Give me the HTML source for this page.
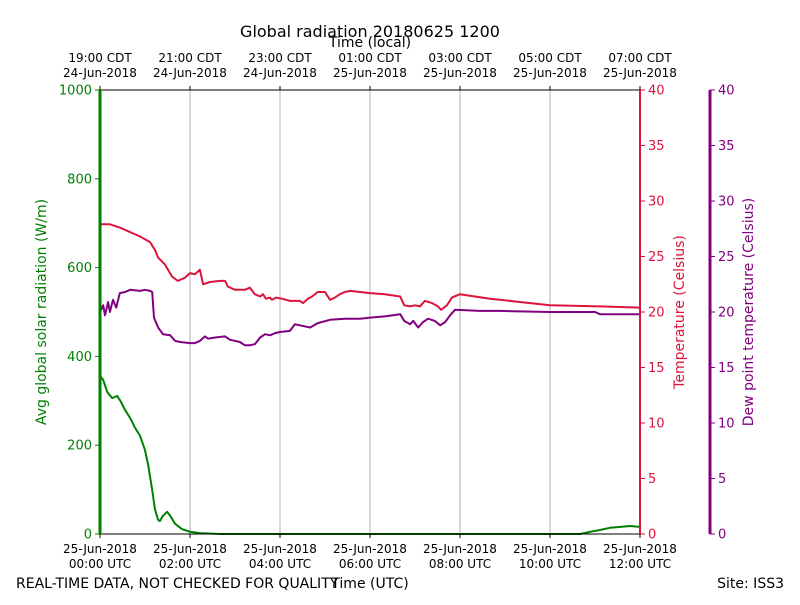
<!DOCTYPE html>
<html><head><meta charset="utf-8"><style>
body{margin:0;background:#fff}
svg{font-family:"DejaVu Sans","Liberation Sans",sans-serif}
</style></head><body>
<svg id="c" width="800" height="600" viewBox="0 0 800 600"></svg>
<script>
// data (hours since 00:00 UTC)
const tempTimes=[0,0.22,0.44,0.89,1.11,1.22,1.29,1.44,1.6,1.73,1.89,2,2.11,2.22,2.29,2.44,2.67,2.78,2.84,3,3.22,3.33,3.44,3.56,3.62,3.69,3.78,3.82,3.91,4.04,4.22,4.44,4.51,4.62,4.71,4.84,5,5.11,5.22,5.33,5.44,5.56,5.78,6,6.33,6.67,6.76,6.89,7,7.11,7.22,7.38,7.51,7.58,7.71,7.82,8,8.33,8.67,9.33,10,11.11,12];
const tempVals=[27.9,27.9,27.6,26.8,26.3,25.6,24.9,24.3,23.2,22.8,23.1,23.5,23.4,23.8,22.5,22.7,22.8,22.8,22.3,22.0,22.0,22.2,21.6,21.4,21.6,21.2,21.3,21.1,21.3,21.2,21.0,21.0,20.8,21.2,21.4,21.8,21.8,21.1,21.3,21.6,21.8,21.9,21.8,21.7,21.6,21.4,20.6,20.5,20.6,20.5,21.0,20.8,20.5,20.2,20.6,21.3,21.6,21.4,21.2,20.9,20.6,20.5,20.4];
const dewTimes=[0,0.07,0.11,0.18,0.22,0.29,0.36,0.44,0.56,0.67,0.89,1,1.11,1.16,1.2,1.29,1.4,1.56,1.67,1.78,2,2.11,2.22,2.33,2.4,2.56,2.78,2.89,3.11,3.22,3.33,3.44,3.56,3.67,3.78,3.89,4,4.22,4.33,4.44,4.67,4.84,5.11,5.44,5.78,6,6.33,6.67,6.76,6.89,6.96,7.07,7.18,7.29,7.44,7.56,7.67,7.78,7.89,8.44,8.89,10,11,11.11,12];
const dewVals=[20.0,20.6,19.7,20.9,20.0,21.1,20.4,21.7,21.8,22.0,21.9,22.0,21.9,21.8,19.5,18.6,18.0,17.9,17.4,17.3,17.2,17.2,17.4,17.8,17.6,17.7,17.8,17.5,17.3,17.0,17.0,17.1,17.7,18.0,17.9,18.1,18.2,18.3,18.9,18.8,18.6,19.0,19.3,19.4,19.4,19.5,19.6,19.8,19.2,18.9,19.2,18.6,19.1,19.4,19.2,18.8,19.1,19.7,20.2,20.1,20.1,20.0,20.0,19.8,19.8];
const solarTimes=[0,0.07,0.16,0.27,0.38,0.44,0.56,0.67,0.78,0.89,1,1.07,1.16,1.22,1.29,1.33,1.4,1.49,1.56,1.67,1.82,2,2.22,2.67,10.67,10.89,11.11,11.33,11.56,11.78,12];
const solarVals=[356,347,320,306,311,302,279,261,239,221,189,155,99,56,32,29,41,50,41,23,11,5,2,0,0,5,9,14,16,18,16];
const topTicks=[["19:00 CDT","24-Jun-2018"],["21:00 CDT","24-Jun-2018"],["23:00 CDT","24-Jun-2018"],["01:00 CDT","25-Jun-2018"],["03:00 CDT","25-Jun-2018"],["05:00 CDT","25-Jun-2018"],["07:00 CDT","25-Jun-2018"]];
const botTicks=["00:00 UTC","02:00 UTC","04:00 UTC","06:00 UTC","08:00 UTC","10:00 UTC","12:00 UTC"];
const leftTicks=[0,200,400,600,800,1000];
const tempTicks=[0,5,10,15,20,25,30,35,40];

const X0=100,X1=640,Y0=534,Y1=90;
const sx=t=>X0+(X1-X0)*t/12;
const sl=v=>Y0-(Y0-Y1)*v/1000;
const st=v=>Y0-(Y0-Y1)*v/40;
const svg=document.getElementById('c');
const NS='http://www.w3.org/2000/svg';
function mk(tag,attrs,txt){const e=document.createElementNS(NS,tag);for(const k in attrs)e.setAttribute(k,attrs[k]);if(txt!==undefined)e.textContent=txt;svg.appendChild(e);return e;}

// grid
for(let i=1;i<6;i++){const g=mk('line',{x1:sx(i*2),x2:sx(i*2),y1:Y1,y2:Y0,stroke:'#b0b0b0','stroke-width':1});

}
// series
function series(ts,vs,f,col,name){const d=ts.map((t,i)=>(i?'L':'M')+sx(t).toFixed(1)+','+f(vs[i]).toFixed(1)).join('');
const p=mk('path',{d:d,fill:'none',stroke:col,'stroke-width':2,'stroke-linejoin':'round'});

}
series(tempTimes,tempVals,st,'#dc143c','temperature-line');
series(dewTimes,dewVals,st,'#800080','dew-point-line');
series(solarTimes,solarVals,sl,'#008000','solar-radiation-line');
// frame
mk('line',{x1:X0,x2:X1,y1:Y1,y2:Y1,stroke:'#000','stroke-width':1});
mk('line',{x1:X0,x2:X1,y1:Y0,y2:Y0,stroke:'#000','stroke-width':1});
mk('line',{x1:X0,x2:X0,y1:Y1,y2:Y0,stroke:'#008000','stroke-width':3});
mk('line',{x1:X1,x2:X1,y1:Y1,y2:Y0,stroke:'#dc143c','stroke-width':2});
mk('line',{x1:710,x2:710,y1:Y1,y2:Y0,stroke:'#800080','stroke-width':3});
// left ticks
leftTicks.forEach(v=>{mk('line',{x1:X0-5,x2:X0,y1:sl(v),y2:sl(v),stroke:'#008000'});
const t=mk('text',{x:X0-8,y:sl(v)+4.5,'text-anchor':'end','font-size':13,fill:'#008000'},v);

});
tempTicks.forEach(v=>{mk('line',{x1:X1,x2:X1+5,y1:st(v),y2:st(v),stroke:'#dc143c'});
const t=mk('text',{x:X1+8,y:st(v)+4.5,'font-size':13,fill:'#dc143c'},v);


mk('line',{x1:710,x2:715,y1:st(v),y2:st(v),stroke:'#800080'});
const d=mk('text',{x:718,y:st(v)+4.5,'font-size':13,fill:'#800080'},v);

});
// x ticks
botTicks.forEach((s,i)=>{const x=sx(i*2);
mk('line',{x1:x,x2:x,y1:Y0,y2:Y0+4,stroke:'#000'});
const a=mk('text',{x:x,y:553,'text-anchor':'middle','font-size':12},'25-Jun-2018');


const b=mk('text',{x:x,y:568,'text-anchor':'middle','font-size':12},s);

});
topTicks.forEach((s,i)=>{const x=sx(i*2);
mk('line',{x1:x,x2:x,y1:Y1-4,y2:Y1,stroke:'#000'});
const a=mk('text',{x:x,y:62,'text-anchor':'middle','font-size':12},s[0]);


const b=mk('text',{x:x,y:77,'text-anchor':'middle','font-size':12},s[1]);

});
</script>
<svg width="800" height="600" style="position:absolute;left:0;top:0" font-family="DejaVu Sans, Liberation Sans, sans-serif">
<text x="370" y="37" text-anchor="middle" font-size="16">Global radiation 20180625 1200</text>
<text x="370" y="47" text-anchor="middle" font-size="14">Time (local)</text>
<text x="370" y="588" text-anchor="middle" font-size="14">Time (UTC)</text>
<text x="16" y="588" font-size="14">REAL-TIME DATA, NOT CHECKED FOR QUALITY</text>
<text x="784" y="588" text-anchor="end" font-size="14">Site: ISS3</text>
<text transform="translate(46,312) rotate(-90)" text-anchor="middle" font-size="14" fill="#008000">Avg global solar radiation (W/m)</text>
<text transform="translate(684,312) rotate(-90)" text-anchor="middle" font-size="14" fill="#dc143c">Temperature (Celsius)</text>
<text transform="translate(753,312) rotate(-90)" text-anchor="middle" font-size="14" fill="#800080">Dew point temperature (Celsius)</text>
</svg>
</body></html>
